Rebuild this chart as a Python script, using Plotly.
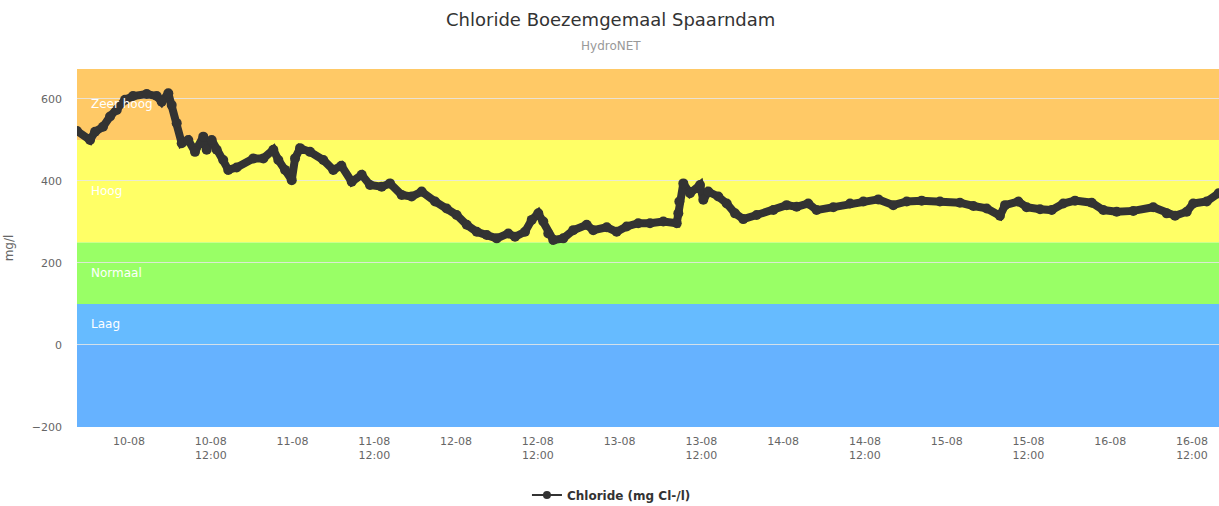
import plotly.graph_objects as go

# ---- data ----
times = [
    "2019-08-09 16:22", "2019-08-09 18:17", "2019-08-09 19:01", "2019-08-09 20:11",
    "2019-08-09 21:13", "2019-08-09 22:12", "2019-08-09 23:25", "2019-08-10 00:35",
    "2019-08-10 02:36", "2019-08-10 04:04", "2019-08-10 04:48", "2019-08-10 05:46",
    "2019-08-10 06:16", "2019-08-10 07:00", "2019-08-10 07:44", "2019-08-10 08:42",
    "2019-08-10 09:41", "2019-08-10 10:54", "2019-08-10 11:24", "2019-08-10 12:08",
    "2019-08-10 12:52", "2019-08-10 13:50", "2019-08-10 14:34", "2019-08-10 15:48",
    "2019-08-10 18:15", "2019-08-10 19:43", "2019-08-10 21:11", "2019-08-10 21:55",
    "2019-08-10 22:54", "2019-08-10 23:53", "2019-08-11 00:22", "2019-08-11 01:06",
    "2019-08-11 02:34", "2019-08-11 04:31", "2019-08-11 05:59", "2019-08-11 07:10",
    "2019-08-11 08:41", "2019-08-11 10:09", "2019-08-11 11:22", "2019-08-11 13:05",
    "2019-08-11 14:18", "2019-08-11 16:01", "2019-08-11 17:29", "2019-08-11 18:57",
    "2019-08-11 20:55", "2019-08-11 22:37", "2019-08-12 00:05", "2019-08-12 01:34",
    "2019-08-12 03:02", "2019-08-12 04:30", "2019-08-12 05:58", "2019-08-12 07:40",
    "2019-08-12 08:39", "2019-08-12 10:07", "2019-08-12 11:06", "2019-08-12 12:04",
    "2019-08-12 12:48", "2019-08-12 13:32", "2019-08-12 14:16", "2019-08-12 15:44",
    "2019-08-12 17:12", "2019-08-12 19:10", "2019-08-12 20:08", "2019-08-12 22:07",
    "2019-08-12 23:34", "2019-08-13 01:02", "2019-08-13 02:44", "2019-08-13 04:28",
    "2019-08-13 06:25", "2019-08-13 08:23", "2019-08-13 08:37", "2019-08-13 08:46",
    "2019-08-13 09:21", "2019-08-13 10:20", "2019-08-13 11:48", "2019-08-13 12:17",
    "2019-08-13 13:01", "2019-08-13 14:29", "2019-08-13 15:43", "2019-08-13 16:56",
    "2019-08-13 18:09", "2019-08-13 20:07", "2019-08-13 22:34", "2019-08-14 00:31",
    "2019-08-14 01:59", "2019-08-14 03:41", "2019-08-14 04:55", "2019-08-14 07:22",
    "2019-08-14 09:49", "2019-08-14 11:46", "2019-08-14 13:58", "2019-08-14 16:10",
    "2019-08-14 18:08", "2019-08-14 20:20", "2019-08-14 23:01", "2019-08-15 01:57",
    "2019-08-15 03:55", "2019-08-15 05:52", "2019-08-15 07:49", "2019-08-15 08:34",
    "2019-08-15 10:31", "2019-08-15 11:44", "2019-08-15 13:42", "2019-08-15 15:25",
    "2019-08-15 17:07", "2019-08-15 18:50", "2019-08-15 21:17", "2019-08-15 22:59",
    "2019-08-16 00:57", "2019-08-16 03:23", "2019-08-16 06:19", "2019-08-16 08:17",
    "2019-08-16 09:31", "2019-08-16 11:14", "2019-08-16 12:11", "2019-08-16 14:10",
    "2019-08-16 15:55",
]
chloride = [
    522, 500, 520, 532, 557, 573, 598, 607,
    612, 607, 593, 614, 585, 541, 492, 500,
    471, 508, 476, 500, 476, 451, 427, 433,
    455, 455, 476, 451, 427, 402, 455, 480,
    471, 451, 427, 437, 398, 415, 390, 386,
    394, 366, 362, 374, 350, 333, 317, 293,
    276, 268, 260, 272, 264, 276, 305, 321,
    301, 272, 256, 260, 280, 293, 280, 287,
    276, 289, 297, 297, 301, 297, 321, 350,
    394, 370, 390, 354, 374, 362, 345, 321,
    307, 317, 329, 341, 337, 345, 329, 336,
    345, 350, 355, 341, 350, 352, 350, 347,
    339, 333, 315, 341, 350, 336, 331, 329,
    345, 352, 347, 329, 325, 327, 336, 321,
    315, 325, 345, 350, 370,
]

band_names = ["Zeer hoog", "Hoog", "Normaal", "Laag", ""]
band_low = [500, 250, 100, 0, -200]
band_high = [673, 500, 250, 100, 0]
band_colors = ["#FFC966", "#FFFF66", "#99FF66", "#66BBFF", "#66B2FF"]

tick_vals = [
    "2019-08-10 00:00", "2019-08-10 12:00", "2019-08-11 00:00", "2019-08-11 12:00",
    "2019-08-12 00:00", "2019-08-12 12:00", "2019-08-13 00:00", "2019-08-13 12:00",
    "2019-08-14 00:00", "2019-08-14 12:00", "2019-08-15 00:00", "2019-08-15 12:00",
    "2019-08-16 00:00", "2019-08-16 12:00",
]
tick_text = [
    "10-08", "10-08<br>12:00", "11-08", "11-08<br>12:00",
    "12-08", "12-08<br>12:00", "13-08", "13-08<br>12:00",
    "14-08", "14-08<br>12:00", "15-08", "15-08<br>12:00",
    "16-08", "16-08<br>12:00",
]
y_ticks = [-200, 0, 200, 400, 600]
x_range = ["2019-08-09 16:22", "2019-08-16 15:58"]
y_range = [-200, 673]

FONT = "DejaVu Sans, Verdana, sans-serif"
SERIES_NAME = "Chloride (mg Cl-/l)"

fig = go.Figure()
fig.add_trace(go.Scatter(
    x=times, y=chloride, mode="lines+markers",
    name=SERIES_NAME, showlegend=False,
    line=dict(color="#333333", width=8),
    marker=dict(color="#333333", size=10),
))
# legend entry with thin line like the reference legend symbol
fig.add_trace(go.Scatter(
    x=[None], y=[None], mode="lines+markers", name=SERIES_NAME,
    line=dict(color="#333333", width=2),
    marker=dict(color="#333333", size=8),
))

for name, lo, hi, col in zip(band_names, band_low, band_high, band_colors):
    fig.add_shape(type="rect", xref="paper", yref="y", x0=0, x1=1, y0=lo, y1=hi,
                  fillcolor=col, line=dict(width=0), layer="below")
    if name:
        fig.add_annotation(xref="paper", yref="y", x=0.0105, y=(lo + hi) / 2,
                           text=name, showarrow=False, xanchor="left", yanchor="middle",
                           font=dict(family=FONT, size=12, color="white"))

fig.add_annotation(xref="paper", yref="paper", x=0.468, y=1.064, text="HydroNET",
                   showarrow=False, xanchor="center", yanchor="middle",
                   font=dict(family=FONT, size=12, color="#999999"))

fig.update_layout(
    width=1219, height=506,
    margin=dict(l=77, r=0, t=69, b=79, autoexpand=False),
    paper_bgcolor="white", plot_bgcolor="white",
    font=dict(family=FONT, size=11, color="#666666"),
    title=dict(text="Chloride Boezemgemaal Spaarndam", x=0.501, xanchor="center",
               y=0.9605, yanchor="middle",
               font=dict(family=FONT, size=18, color="#333333")),
    showlegend=True,
    legend=dict(orientation="h", x=0.468, xanchor="center", y=-0.19, yanchor="middle",
                font=dict(family=FONT, size=12, color="#333333", weight="bold")),
    xaxis=dict(range=x_range, tickvals=tick_vals, ticktext=tick_text, automargin=False,
               showgrid=False, zeroline=False, showline=False, ticks="",
               tickfont=dict(size=11, color="#666666"), ticklabelstandoff=6),
    yaxis=dict(range=y_range, tickvals=y_ticks, showgrid=True, automargin=False,
               gridcolor="rgba(230,230,230,0.85)", gridwidth=1, zeroline=False,
               ticks="", tickfont=dict(size=11, color="#666666"),
               ticklabelstandoff=14,
               title=dict(text="mg/l", font=dict(size=12, color="#666666"), standoff=15)),
)

fig.write_html(
    "out.html",
    config={"displayModeBar": False},
    post_script="document.body.style.margin='0';document.body.style.overflow='hidden';",
)
